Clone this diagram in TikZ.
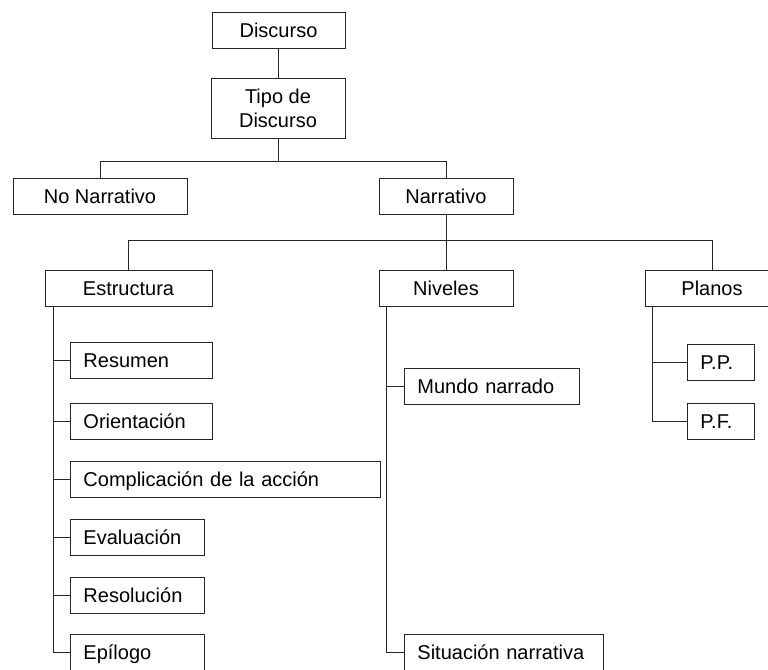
\documentclass[tikz,border=0pt]{standalone}
\usepackage{fontspec}
\setmainfont{Liberation Sans}
\begin{document}
\begin{tikzpicture}[x=1pt,y=-1pt,
  line width=0.9pt, draw=black!85,
  box/.style={draw=black!85, line width=0.9pt, inner sep=0pt, minimum height=36pt,
    font=\fontsize{20}{24}\selectfont, text=black},
  cbox/.style={box, align=center, text height=14.3pt, text depth=0pt},
  lbox/.style={box, anchor=west, align=left, inner xsep=13pt, text height=14.3pt, text depth=0pt},
]
\useasboundingbox (0,0) rectangle (768,669);
\fill[white] (0,0) rectangle (768,669);
% main boxes
\node[cbox, minimum width=133pt] (disc) at (278.5,30) {Discurso};
\node[box, align=center, minimum width=134pt, minimum height=60pt] (tipo) at (278,108) {Tipo de\\Discurso};
\node[cbox, minimum width=174pt] (nonarr) at (100,196) {No Narrativo};
\node[cbox, minimum width=134pt] (narr) at (446,196) {Narrativo};
\node[cbox, minimum width=167pt] (estr) at (128.5,288) {Estructura};
\node[cbox, minimum width=134pt] (nive) at (446,288) {Niveles};
\node[cbox, minimum width=134pt] (plan) at (712,288) {Planos};
% Estructura children
\node[lbox, text width=116pt] (resu) at (70,360.5) {Resumen};
\node[lbox, text width=116pt] (orie) at (70,421) {Orientación};
\node[lbox, text width=284pt] (comp) at (70,479) {Complicación de la acción};
\node[lbox, text width=108pt] (eval) at (70,537) {Evaluación};
\node[lbox, text width=108pt] (reso) at (70,595) {Resolución};
\node[lbox, text width=108pt] (epil) at (70,652) {Epílogo};
% Niveles children
\node[lbox, text width=149pt] (mund) at (404,386) {Mundo narrado};
\node[lbox, text width=173pt] (situ) at (404,652) {Situación narrativa};
% Planos children
\node[lbox, text width=41pt] (pp) at (687,362) {P.P.};
\node[lbox, text width=41pt] (pf) at (687,421) {P.F.};
% connectors
\draw (disc.south) -- (tipo.south |- disc.south) -- (tipo.north);
\coordinate (bus1) at (278,161);
\coordinate (bus2) at (446,240);
\draw (tipo.south) -- (bus1);
\draw (bus1) -| (nonarr.north);
\draw (bus1) -| (narr.north);
\draw (narr.south) -- (bus2);
\draw (bus2) -| (estr.north);
\draw (bus2) -| (nive.north);
\draw (bus2) -| (plan.north);
% spines
\draw ([xshift=9pt]estr.south west) |- (epil.west);
\foreach \n in {resu,orie,comp,eval,reso}
  \draw ([xshift=9pt]estr.south west |- \n.west) -- (\n.west);
\draw ([xshift=8pt]nive.south west) |- (situ.west);
\draw ([xshift=8pt]nive.south west |- mund.west) -- (mund.west);
\draw ([xshift=8pt]plan.south west) |- (pf.west);
\draw ([xshift=8pt]plan.south west |- pp.west) -- (pp.west);
\end{tikzpicture}
\end{document}
